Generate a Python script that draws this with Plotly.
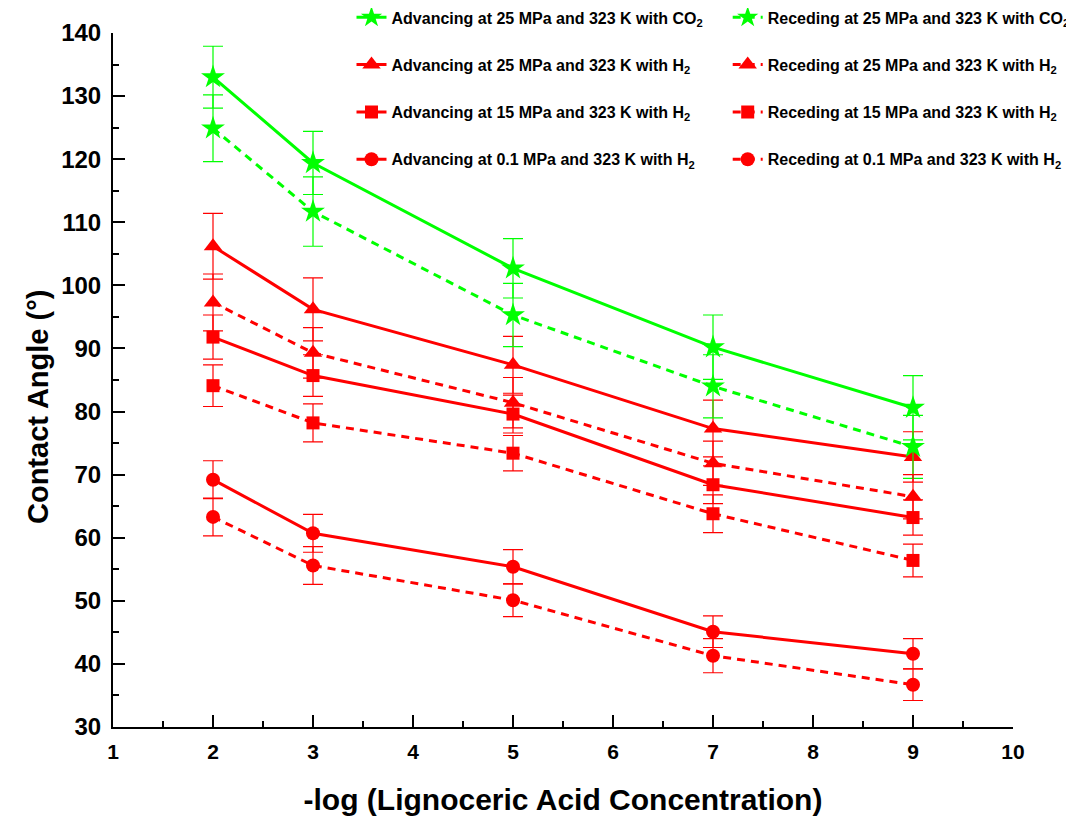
import plotly.graph_objects as go

x_vals = [2, 3, 5, 7, 9]

adv_co2_25 = [133.0, 119.4, 102.7, 90.2, 80.6]
adv_co2_25_err = [4.9, 5.0, 4.7, 5.1, 5.1]
rec_co2_25 = [124.9, 111.7, 95.3, 84.0, 74.4]
rec_co2_25_err = [5.3, 5.5, 5.0, 5.0, 5.0]

adv_h2_25 = [106.2, 96.2, 87.4, 77.3, 72.8]
adv_h2_25_err = [5.2, 5.0, 4.5, 4.5, 4.0]
rec_h2_25 = [97.3, 89.3, 81.4, 71.8, 66.5]
rec_h2_25_err = [4.5, 4.0, 4.0, 3.5, 3.5]

adv_h2_15 = [91.8, 85.7, 79.6, 68.4, 63.2]
adv_h2_15_err = [3.5, 3.3, 3.0, 3.0, 2.8]
rec_h2_15 = [84.1, 78.2, 73.4, 63.8, 56.4]
rec_h2_15_err = [3.3, 3.0, 2.8, 3.0, 2.6]

adv_h2_01 = [69.2, 60.7, 55.4, 45.1, 41.6]
adv_h2_01_err = [3.0, 3.0, 2.7, 2.5, 2.4]
rec_h2_01 = [63.3, 55.6, 50.1, 41.3, 36.7]
rec_h2_01_err = [3.0, 3.0, 2.6, 2.7, 2.5]

x_title = "-log (Lignoceric Acid Concentration)"
y_title = "Contact Angle (°)"

GREEN = "#00ff00"
RED = "#ff0000"

SIZES = {"star": 18, "triangle-up": 16, "square": 13, "circle": 14}

series = [
    ("Advancing at 25 MPa and 323 K with CO<sub>2</sub>", adv_co2_25, adv_co2_25_err, GREEN, "star", "solid", "legend"),
    ("Advancing at 25 MPa and 323 K with H<sub>2</sub>", adv_h2_25, adv_h2_25_err, RED, "triangle-up", "solid", "legend"),
    ("Advancing at 15 MPa and 323 K with H<sub>2</sub>", adv_h2_15, adv_h2_15_err, RED, "square", "solid", "legend"),
    ("Advancing at 0.1 MPa and 323 K with H<sub>2</sub>", adv_h2_01, adv_h2_01_err, RED, "circle", "solid", "legend"),
    ("Receding at 25 MPa and 323 K with CO<sub>2</sub>", rec_co2_25, rec_co2_25_err, GREEN, "star", "8px,6px", "legend2"),
    ("Receding at 25 MPa and 323 K with H<sub>2</sub>", rec_h2_25, rec_h2_25_err, RED, "triangle-up", "8px,6px", "legend2"),
    ("Receding at 15 MPa and 323 K with H<sub>2</sub>", rec_h2_15, rec_h2_15_err, RED, "square", "8px,6px", "legend2"),
    ("Receding at 0.1 MPa and 323 K with H<sub>2</sub>", rec_h2_01, rec_h2_01_err, RED, "circle", "8px,6px", "legend2"),
]

fig = go.Figure()
for i, (name, y, err, col, sym, dash, leg) in enumerate(series):
    fig.add_trace(go.Scatter(
        x=x_vals, y=y, name=name, mode="lines+markers",
        line=dict(color=col, width=3, dash=dash),
        marker=dict(symbol=sym, size=SIZES[sym], color=col),
        error_y=dict(type="data", array=err, visible=True, color=col, thickness=1.2, width=10),
        legend=leg, legendgroup=f"g{i}",
    ))

legend_common = dict(
    font=dict(family="Liberation Sans, Arial, sans-serif", size=16, color="black", weight="bold"),
    bgcolor="rgba(0,0,0,0)", tracegroupgap=23.5, itemwidth=30,
    xanchor="left", yanchor="top", orientation="v",
)

# page body has an 8px margin, so the figure is 8px smaller than the window
W, H = 1066, 809
ML, MT, PW, PH = 105, 25, 900, 694

fig.update_layout(
    width=W, height=H,
    margin=dict(l=ML, r=W - ML - PW, t=MT, b=H - MT - PH, autoexpand=False),
    paper_bgcolor="white", plot_bgcolor="white",
    font=dict(family="Liberation Sans, Arial, sans-serif", color="black"),
    showlegend=True,
    legend=dict(x=0.265, y=1.047, **legend_common),
    legend2=dict(x=0.683, y=1.047, **legend_common),
    xaxis=dict(
        range=[1, 10], dtick=1, tick0=1,
        showline=True, linecolor="black", linewidth=2,
        ticks="inside", ticklen=12, tickwidth=2, tickcolor="black",
        minor=dict(ticks="inside", ticklen=6, tickwidth=2, tickcolor="black", dtick=0.5),
        showgrid=False, zeroline=False,
        tickfont=dict(size=21, weight="bold"),
        ticklabelstandoff=5,
        title=dict(text=x_title, font=dict(size=30, weight="bold"), standoff=27),
    ),
    yaxis=dict(
        range=[30, 140], dtick=10, tick0=30,
        showline=True, linecolor="black", linewidth=2,
        ticks="inside", ticklen=12, tickwidth=2, tickcolor="black",
        minor=dict(ticks="inside", ticklen=6, tickwidth=2, tickcolor="black", dtick=5),
        showgrid=False, zeroline=False,
        tickfont=dict(size=24, weight="bold"),
        ticklabelstandoff=5,
    ),
    annotations=[dict(
        text=y_title, textangle=-90, xref="paper", yref="paper",
        x=-(ML - 30) / PW, y=1 - (407 - 33) / PH, xanchor="center", yanchor="middle",
        showarrow=False, font=dict(size=29, weight="bold", color="black"),
    )],
)

fig.write_html("out.html")
